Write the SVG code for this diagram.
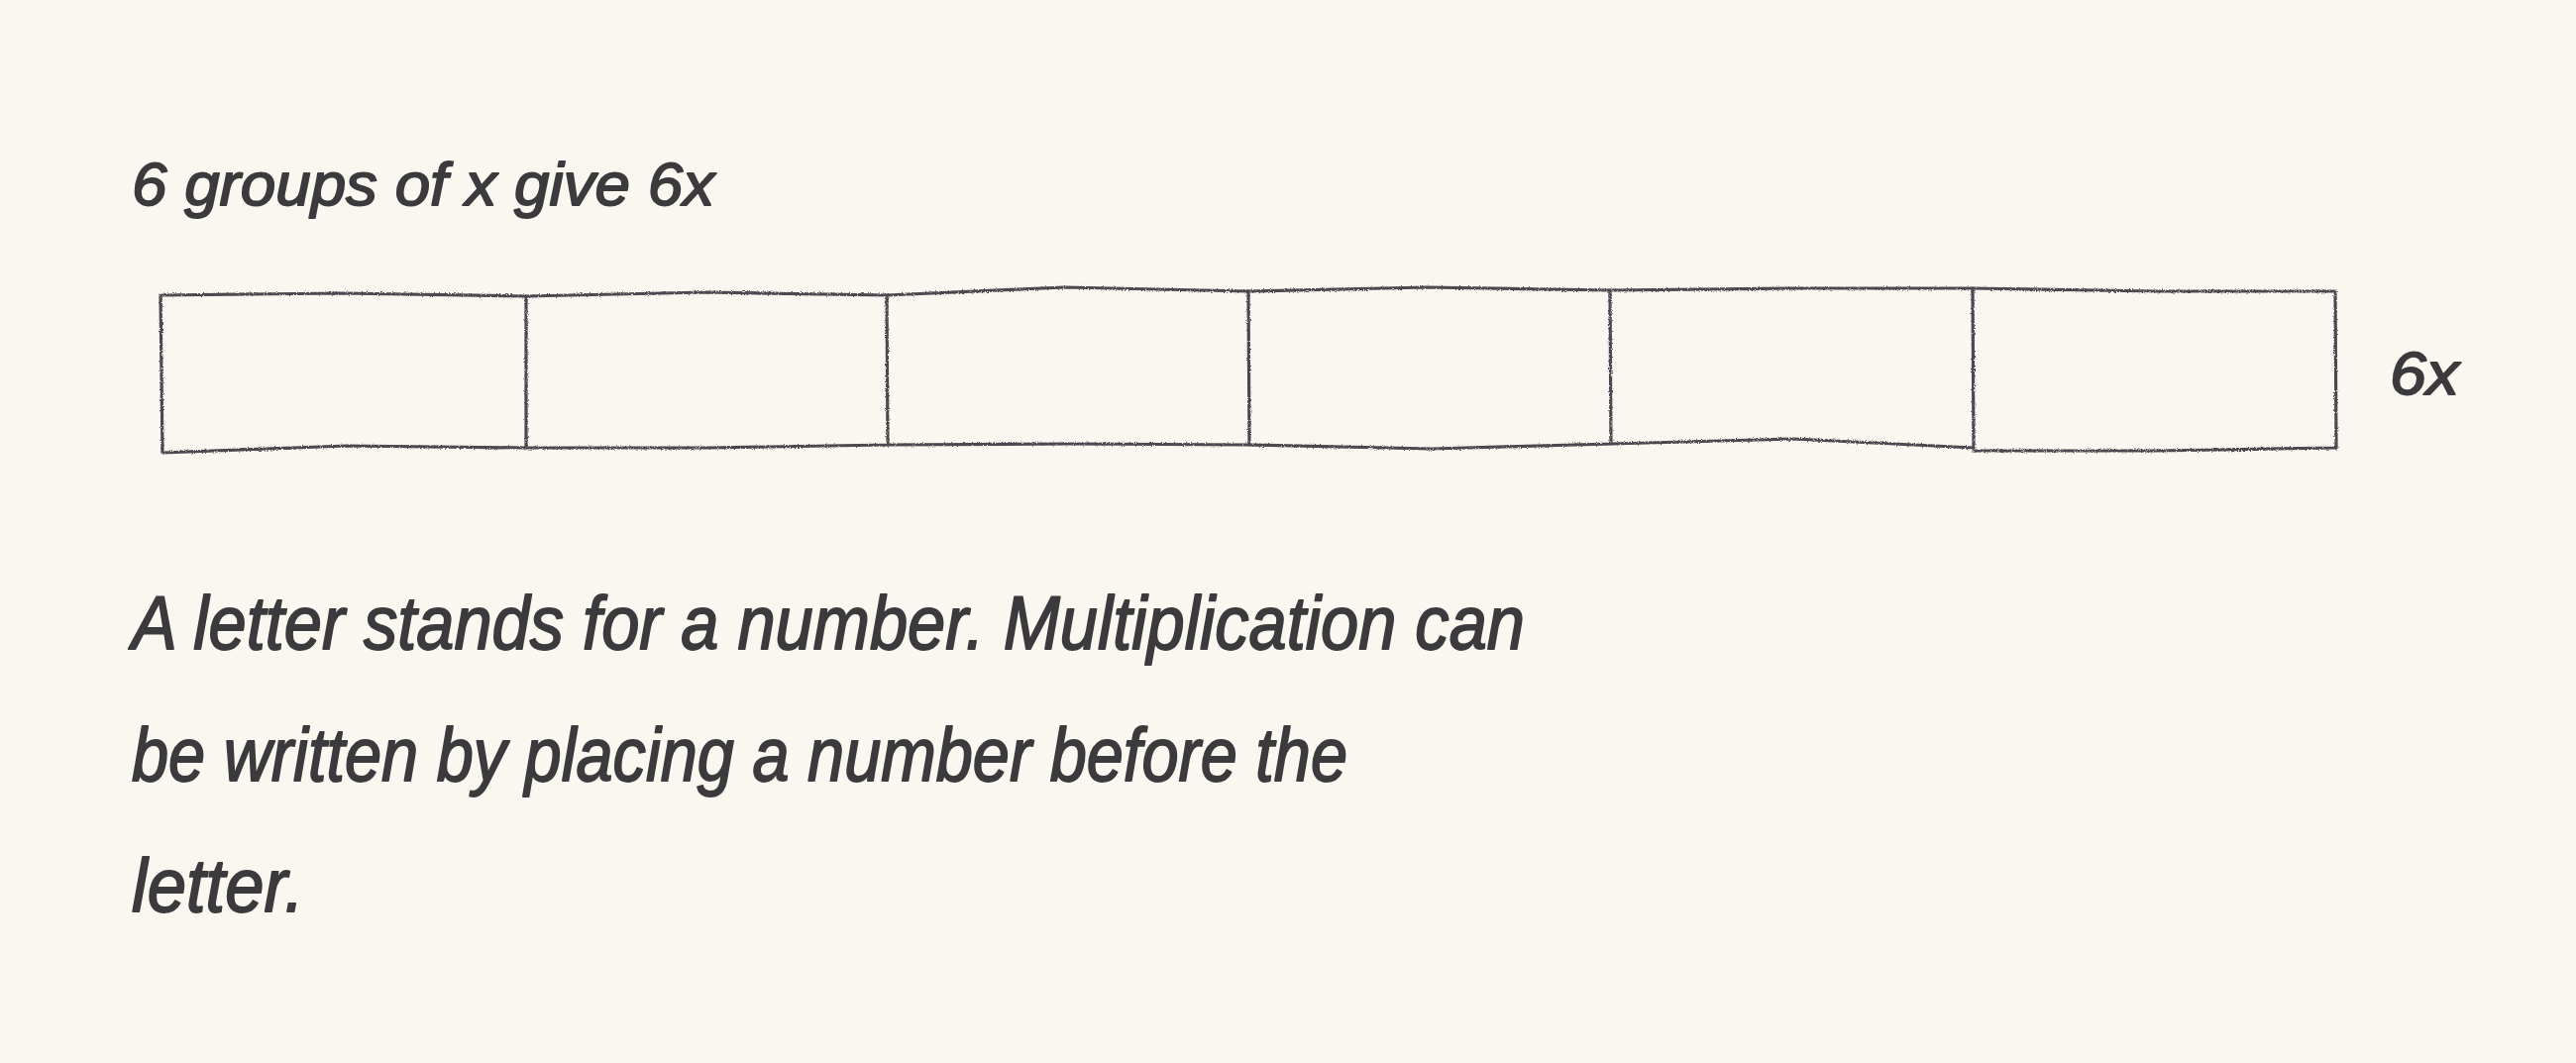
<svg xmlns="http://www.w3.org/2000/svg" width="2600" height="1073" viewBox="0 0 2600 1073">
<style>
.txt{font-family:"Liberation Sans","DejaVu Sans",sans-serif;font-style:italic;fill:#3b3a3c;stroke:#3b3a3c;stroke-width:1.8;stroke-linejoin:round;}
.box{fill:none;stroke:#4a494f;stroke-width:3.2;stroke-linejoin:round;stroke-linecap:round;filter:url(#rough);}
</style>
<defs>
<filter id="rough" x="-2%" y="-10%" width="104%" height="120%">
<feTurbulence type="fractalNoise" baseFrequency="0.9" numOctaves="2" seed="3" result="n"/>
<feDisplacementMap in="SourceGraphic" in2="n" scale="3" xChannelSelector="R" yChannelSelector="G"/>
</filter>
</defs>
<rect width="2600" height="1073" fill="#f9f7ef"/>
<g id="title"><text class="txt" x="133" y="207" font-size="62" textLength="588" lengthAdjust="spacingAndGlyphs">6 groups of x give 6x</text></g>
<g id="boxes">
<g id="box1"><path class="box" d="M163 298 L345 296 L531 299 M531 299 L531 452 M531 452 L350 450 L164 457 M164 457 L163 378 L162 298"/></g>
<g id="box2"><path class="box" d="M531 299 L712 295 L895 298 M895 298 L896 449 M896 449 L715 452 L531 452"/></g>
<g id="box3"><path class="box" d="M895 298 L1075 290 L1260 294 M1260 294 L1261 449 M1261 449 L1080 448 L896 449"/></g>
<g id="box4"><path class="box" d="M1260 294 L1440 290 L1625 293 M1625 293 L1626 448 M1626 448 L1445 453 L1261 449"/></g>
<g id="box5"><path class="box" d="M1625 293 L1810 291 L1991 291 M1991 291 L1992 452 M1992 452 L1810 443 L1626 448"/></g>
<g id="box6"><path class="box" d="M1991 291 L2175 294 L2357 294 M2357 294 L2358 452 M2358 452 L2175 455 L1992 455"/></g>
</g>
<g id="label6x"><text class="txt" x="2412" y="398" font-size="62" textLength="70" lengthAdjust="spacingAndGlyphs">6x</text></g>
<g id="paragraph">
<text class="txt" x="133" y="655" font-size="76" textLength="1406" lengthAdjust="spacingAndGlyphs">A letter stands for a number. Multiplication can</text>
<text class="txt" x="133" y="788" font-size="76" textLength="1227" lengthAdjust="spacingAndGlyphs">be written by placing a number before the</text>
<text class="txt" x="133" y="920" font-size="76" textLength="174" lengthAdjust="spacingAndGlyphs">letter.</text>
</g>
<g id="connectors"/>
</svg>
